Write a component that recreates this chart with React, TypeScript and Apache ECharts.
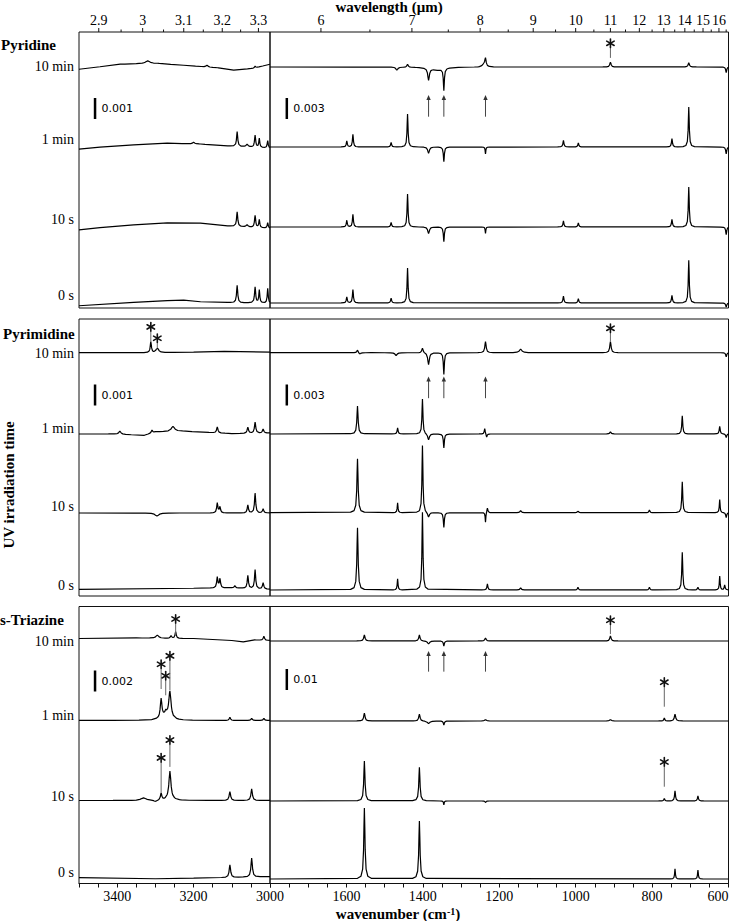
import React, { useEffect, useRef } from 'react';
import * as echarts from 'echarts';

// ---------------- text / axes ----------------
const PANEL_NAMES = ['Pyridine', 'Pyrimidine', 's-Triazine'];
const TRACE_LABELS = ['10 min', '1 min', '10 s', '0 s'];
const TOP_TITLE = 'wavelength (\u03bcm)';
const Y_TITLE = 'UV irradiation time';
const LEFT_RANGE = [3000, 3500];
const RIGHT_RANGE = [600, 1800];
const TICK_STEP = 50;
const LABEL_STEP = 200;
const WL_LEFT_MAJOR = [2.9, 3, 3.1, 3.2, 3.3];
const WL_LEFT_MINOR = [2.95, 3.05, 3.15, 3.25];
const WL_RIGHT_MAJOR = [6, 7, 8, 9, 10, 11, 12, 13, 14, 15, 16];
const WL_RIGHT_MINOR = [6.5, 7.5, 8.5, 9.5, 10.5, 11.5, 12.5, 13.5, 14.5, 15.5, 16.5];
const SCALE_BAR_LEFT = [0.001, 0.001, 0.002];
const SCALE_BAR_RIGHT = [0.003, 0.003, 0.01];
const SCALE_BAR_WN = [3458, 1756];
const ARROW_WN = [1385, 1345, 1236];
// arrow [bottom, top] relative to the 10 min trace (absorbance)
const ARROW_REL = [[-0.0071, -0.004], [-0.0065, -0.0034], [-0.0146, -0.0048]];
// asterisks: [wavenumber, trace index, line bottom, line top] (absorbance above trace)
const STARS_LEFT = [
  [],
  [[3312, 0, 0.00052, 0.001], [3295, 0, 0.00022, 0.00046]],
  [[3247, 0, 0.00033, 0.0014], [3285, 1, 0.003, 0.0049], [3273, 1, 0.0024, 0.0038], [3262, 1, 0.0029, 0.0057], [3285, 2, 0.0008, 0.0036], [3262, 2, 0.0032, 0.0053]],
];
const STARS_RIGHT = [
  [[909, 0, 0.0013, 0.0027]],
  [[909, 0, 0.0016, 0.0028]],
  [[909, 0, 0.0033, 0.0076], [768, 1, 0.0068, 0.0162], [768, 2, 0.0068, 0.0163]],
];

// ---------------- spectra: peaks [wavenumber, absorbance, half width] ----------------
// Pyridine, 3500-3000 cm-1
const pyridineL10minBase = [[3500, -0.00006], [3445, 0.00006], [3392, 0.00018], [3331, 0.00022], [3295, 0.00022], [3226, 0.00013], [3137, 0.00001], [3095, -0.0001], [3042, -0.00001], [3000, 0.00018]];
const pyridineL10min = [[3320, 0.00012, 6], [3165, 0.00008, 3], [3039, 0.00008, 2]];
const pyridineL1minBase = [[3500, -0.0001], [3445, -0.00001], [3357, 0.0001], [3269, 0.00018], [3182, 0.00014], [3111, 0.00005], [3000, -0.00005]];
const pyridineL1min = [[3086, 0.0007, 1.8], [3039, 0.00057, 1.8], [3028, 0.00043, 1.5], [3006, 0.00035, 1.5], [3060, 0.00012, 3], [3200, 0.00008, 3]];
const pyridineL10sBase = [[3500, -0.00014], [3445, -0.00003], [3357, 0.0001], [3269, 0.0002], [3182, 0.00018], [3111, 0.00005], [3000, -0.00006]];
const pyridineL10s = [[3086, 0.0007, 1.8], [3039, 0.00057, 1.8], [3028, 0.00038, 1.5], [3006, 0.00026, 1.5], [3060, 0.0001, 3]];
const pyridineL0sBase = [[3500, -0.00013], [3357, 0.00003], [3269, 0.00011], [3226, 0.00014], [3182, 0.00006], [3111, 0.00002], [3000, -0.00001]];
const pyridineL0s = [[3086, 0.00083, 1.8], [3039, 0.00076, 1.8], [3028, 0.00062, 1.5], [3006, 0.0007, 1.5]];
// Pyridine, 1800-600 cm-1
const pyridineR10min = [[1468, -0.00043, 3], [1440, 0.00043, 2], [1362, -0.00043, 22], [1385, -0.0017, 2.5], [1345, -0.0031, 1.5], [1236, 0.0011, 2], [1240, 0.0004, 5], [909, 0.0007, 2], [704, 0.0006, 2], [606, -0.0008, 1.5]];
const pyridineR1min = [[1599, 0.00086, 1.5], [1583, 0.0018, 1.5], [1483, 0.00064, 1.5], [1440, 0.0047, 1.5], [1385, -0.0009, 2.5], [1345, -0.0021, 1.5], [1236, -0.001, 1], [1032, 0.00096, 1.5], [993, 0.00057, 1.5], [748, 0.0012, 1.5], [704, 0.0057, 1.5], [606, -0.001, 1.5]];
const pyridineR10s = [[1599, 0.00095, 1.5], [1583, 0.0018, 1.5], [1483, 0.00064, 1.5], [1440, 0.0047, 1.5], [1385, -0.00095, 2.5], [1345, -0.0021, 1.5], [1236, -0.0009, 1], [1032, 0.00086, 1.5], [993, 0.00057, 1.5], [748, 0.0011, 1.5], [704, 0.0057, 1.5], [606, -0.0011, 1.5]];
const pyridineR0s = [[1599, 0.00086, 1.5], [1583, 0.0019, 1.5], [1483, 0.0007, 1.5], [1440, 0.005, 1.5], [1032, 0.001, 1.5], [993, 0.0006, 1.5], [748, 0.0011, 1.5], [704, 0.0061, 1.5], [606, -0.0006, 1.5]];
// Pyrimidine, 3500-3000 cm-1
const pyrimidineL10minBase = [[3500, 0], [3300, 0], [3200, 0.00003], [3120, 0.00006], [3000, 0.00003]];
const pyrimidineL10min = [[3312, 0.00052, 1.8], [3295, 0.00022, 4]];
const pyrimidineL1minBase = [[3500, 0], [3400, 0], [3330, -0.00007], [3300, 0.0001], [3230, 0.00014], [3160, 0.00007], [3100, 0.00002], [3000, 0.00005]];
const pyrimidineL1min = [[3393, 0.00014, 3], [3309, 0.00014, 2], [3254, 0.00024, 5], [3138, 0.00029, 2], [3058, 0.00029, 2], [3039, 0.00052, 2], [3018, 0.00019, 2]];
const pyrimidineL10sBase = [[3500, 0], [3000, 0]];
const pyrimidineL10s = [[3296, -0.00014, 6], [3138, 0.00048, 1.8], [3131, 0.00029, 1.8], [3058, 0.00038, 1.8], [3039, 0.00095, 1.8], [3018, 0.00019, 2]];
const pyrimidineL0sBase = [[3500, 0], [3200, 0.00005], [3100, 0.00007], [3000, 0]];
const pyrimidineL0s = [[3138, 0.00052, 1.8], [3131, 0.00043, 1.8], [3092, 0.0001, 2], [3058, 0.00062, 1.8], [3039, 0.0009, 1.8], [3018, 0.00029, 2]];
// Pyrimidine, 1800-600 cm-1
const pyrimidineR10min = [[1571, 0.0004, 2], [1565, -0.0002, 3], [1470, -0.0004, 3], [1401, 0.0007, 2], [1385, -0.0017, 2.5], [1345, -0.0031, 1.5], [1236, 0.0016, 2], [1144, 0.0005, 4], [909, 0.0016, 2], [606, -0.0006, 1.5]];
const pyrimidineR1min = [[1571, 0.004, 1.8], [1466, 0.00086, 1.5], [1401, 0.005, 1.5], [1385, -0.00086, 2.5], [1345, -0.002, 1.5], [1238, 0.0008, 1.5], [1233, -0.0005, 1.5], [909, 0.0003, 2], [721, 0.0026, 1.5], [623, 0.0011, 1.5], [606, -0.0005, 1.5]];
const pyrimidineR10s = [[1571, 0.0077, 1.8], [1466, 0.0014, 1.2], [1401, 0.0096, 1.5], [1385, -0.0007, 2.5], [1345, -0.0021, 1.5], [1236, -0.0014, 1], [1231, 0.0007, 1.5], [1144, 0.0003, 2], [994, 0.0003, 1.5], [807, 0.0004, 1.5], [721, 0.0044, 1.5], [623, 0.0019, 1.2], [606, -0.0007, 1.5]];
const pyrimidineR0s = [[1571, 0.0089, 1.8], [1466, 0.0016, 1.2], [1401, 0.0111, 1.5], [1231, 0.00086, 1.5], [1144, 0.0003, 2], [994, 0.0004, 1.5], [807, 0.0004, 1.5], [721, 0.0054, 1.5], [680, 0.0004, 1.5], [623, 0.002, 1.2], [610, 0.0007, 1.5]];
// s-Triazine, 3500-3000 cm-1
const triazineL10minBase = [[3500, 0], [3350, 0.00005], [3200, 0], [3100, -0.00019], [3070, -0.00033], [3040, -0.00014], [3000, -0.00019]];
const triazineL10min = [[3295, 0.00029, 4], [3259, 0.00024, 2], [3247, 0.00062, 1.8], [3016, 0.00038, 2]];
const triazineL1minBase = [[3500, 0], [3000, 0]];
const triazineL1min = [[3273, 0.00048, 14], [3285, 0.0018, 2.5], [3273, 0.0003, 2], [3262, 0.0025, 3.5], [3105, 0.0003, 2], [3048, 0.0002, 2], [3016, 0.0002, 2]];
const triazineL10sBase = [[3500, 0], [3000, 0]];
const triazineL10s = [[3331, 0.00024, 8], [3300, -0.00014, 5], [3285, 0.00067, 2], [3262, 0.0003, 10], [3262, 0.0025, 3], [3105, 0.00084, 2.2], [3048, 0.0011, 2.2]];
const triazineL0sBase = [[3500, 0], [3300, -0.0001], [3200, -0.00005], [3000, 0.0001]];
const triazineL0s = [[3105, 0.0012, 2.2], [3048, 0.0018, 2.2]];
// s-Triazine, 1800-600 cm-1
const triazineR10min = [[1553, 0.0029, 2], [1409, 0.0029, 2], [1385, -0.0014, 3], [1345, -0.0024, 1.5], [1236, 0.0014, 2], [909, 0.0024, 2]];
const triazineR1min = [[1553, 0.0038, 2], [1409, 0.0033, 2], [1385, -0.0012, 4], [1345, -0.0019, 1.5], [1236, 0.0008, 2], [909, 0.0008, 2], [768, 0.0014, 1.5], [740, 0.0033, 2]];
const triazineR10s = [[1553, 0.019, 1.8], [1409, 0.016, 1.8], [1345, -0.0019, 1], [1236, -0.001, 1], [768, 0.0012, 1.5], [740, 0.0048, 1.5], [680, 0.0024, 1.5]];
const triazineR0s = [[1553, 0.0338, 1.8], [1409, 0.0276, 1.8], [740, 0.0048, 1.2], [680, 0.0043, 1.2]];

const LEFT_PEAKS = [
  [pyridineL10min, pyridineL1min, pyridineL10s, pyridineL0s],
  [pyrimidineL10min, pyrimidineL1min, pyrimidineL10s, pyrimidineL0s],
  [triazineL10min, triazineL1min, triazineL10s, triazineL0s],
];
const LEFT_BASES = [
  [pyridineL10minBase, pyridineL1minBase, pyridineL10sBase, pyridineL0sBase],
  [pyrimidineL10minBase, pyrimidineL1minBase, pyrimidineL10sBase, pyrimidineL0sBase],
  [triazineL10minBase, triazineL1minBase, triazineL10sBase, triazineL0sBase],
];
const RIGHT_PEAKS = [
  [pyridineR10min, pyridineR1min, pyridineR10s, pyridineR0s],
  [pyrimidineR10min, pyrimidineR1min, pyrimidineR10s, pyrimidineR0s],
  [triazineR10min, triazineR1min, triazineR10s, triazineR0s],
];

// ---------------- layout (pixels) ----------------
const SERIF = '"Liberation Serif", "Times New Roman", serif';
const SANS = '"DejaVu Sans", Verdana, sans-serif';
const SECTION_X = [{ left: 79, width: 191 }, { left: 270, width: 458.5 }];
const PANEL_BOX = [{ top: 32, height: 276 }, { top: 319, height: 277 }, { top: 606.5, height: 277 }];
const BAR_PX = 21;
const OFFSETS_PX = [
  { L: [240, 161, 81, 5], R: [241, 161, 81, 5] },
  { L: [243.3, 162, 83, 6.7], R: [243.3, 162, 83.3, 6] },
  { L: [245, 163, 83, 5.8], R: [242.5, 162.5, 82.5, 4.5] },
];
const LABEL_Y = [[66.7, 139.5, 219.5, 295.3], [353.5, 428.5, 506, 585.3], [641.8, 715, 796.7, 872]];
const NAME_Y = [45, 333.5, 620];
const NAME_X = [1, 3, 0];
const BAR_BOTTOM_PX = [[189, 189], [190.5, 190.5], [192, 193.5]];
const STAR_R = 4.3;

function baseAt(base: number[][], x: number) {
  const b = [...base].sort((p, q) => p[0] - q[0]);
  if (x <= b[0][0]) return b[0][1];
  for (let i = 1; i < b.length; i++) {
    if (x <= b[i][0]) {
      const t = (x - b[i - 1][0]) / (b[i][0] - b[i - 1][0]);
      return b[i - 1][1] + t * (b[i][1] - b[i - 1][1]);
    }
  }
  return b[b.length - 1][1];
}

function buildTrace(peaks: number[][], base: number[][], range: number[], offset: number) {
  const [lo, hi] = range;
  const xs = new Set<number>([lo, hi]);
  base.forEach((p) => xs.add(p[0]));
  const K = [-10, -5, -2.5, -1.2, -0.6, 0, 0.6, 1.2, 2.5, 5, 10];
  peaks.forEach(([c, , w]) => K.forEach((k) => {
    const x = c + k * w;
    if (x >= lo && x <= hi) xs.add(Math.round(x * 100) / 100);
  }));
  const arr = [...xs].sort((a, b) => a - b);
  return arr.map((x) => [x, offset + baseAt(base, x) + peaks.reduce((s, [c, h, w]) => s + h / (1 + ((x - c) / w) ** 2), 0)]);
}

function starShape(cx: number, cy: number) {
  const out: any[] = [];
  const angles = [90, 30, -30];
  angles.forEach((a) => {
    const r = (a * Math.PI) / 180;
    const dx = Math.cos(r) * STAR_R;
    const dy = Math.sin(r) * STAR_R;
    out.push({ type: 'line', shape: { x1: cx - dx, y1: cy - dy, x2: cx + dx, y2: cy + dy }, style: { stroke: '#111', lineWidth: 1.6, lineCap: 'round' } });
  });
  return out;
}

function buildOption() {
  const grid: any[] = [];
  const xAxis: any[] = [];
  const yAxis: any[] = [];
  const series: any[] = [];
  const yMax: number[] = [];

  for (let p = 0; p < 3; p++) {
    for (let s = 0; s < 2; s++) {
      const g = p * 2 + s;
      const U = s === 0 ? SCALE_BAR_LEFT[p] : SCALE_BAR_RIGHT[p];
      const f = U / BAR_PX;
      const H = PANEL_BOX[p].height;
      yMax[g] = H * f;
      grid.push({
        left: SECTION_X[s].left, width: SECTION_X[s].width, top: PANEL_BOX[p].top, height: H,
        show: true, borderColor: '#111', borderWidth: 1, backgroundColor: 'transparent',
        containLabel: false, outerBoundsMode: 'none',
      });
      const range = s === 0 ? LEFT_RANGE : RIGHT_RANGE;
      const bottom = p === 2;
      xAxis.push({
        gridIndex: g, type: 'value', min: range[0], max: range[1], inverse: true, interval: TICK_STEP,
        position: 'bottom', show: bottom,
        axisLine: { show: bottom, lineStyle: { color: '#111', width: 1 } },
        axisTick: { show: bottom, length: 4, inside: false, lineStyle: { color: '#111' } },
        axisLabel: {
          show: bottom, fontFamily: SERIF, fontSize: 14, lineHeight: 14, color: '#000', margin: 6,
          alignMinLabel: s === 1 ? 'right' : 'center',
          formatter: (v: number) => (v % LABEL_STEP === 0 && v !== RIGHT_RANGE[1] ? String(v) : ''),
        },
        splitLine: { show: false },
      });
      yAxis.push({ gridIndex: g, type: 'value', min: 0, max: yMax[g], show: false, splitLine: { show: false } });

      // spectra
      const offs = s === 0 ? OFFSETS_PX[p].L : OFFSETS_PX[p].R;
      for (let t = 0; t < 4; t++) {
        const peaks = s === 0 ? LEFT_PEAKS[p][t] : RIGHT_PEAKS[p][t];
        const base = s === 0 ? LEFT_BASES[p][t] : [[range[0], 0], [range[1], 0]];
        series.push({
          type: 'line', xAxisIndex: g, yAxisIndex: g, silent: true, showSymbol: false, symbol: 'none',
          lineStyle: { color: '#000', width: 1.2 }, z: 3,
          data: buildTrace(peaks, base, range, offs[t] * f),
        });
      }

      // scale bar
      const barWn = SCALE_BAR_WN[s];
      const barBot = BAR_BOTTOM_PX[p][s] * f;
      const barLabel = String(U);
      series.push({
        type: 'custom', xAxisIndex: g, yAxisIndex: g, silent: true, clip: false, z: 4,
        data: [[barWn, barBot, barBot + U]],
        renderItem: (params: any, api: any) => {
          const b = api.coord([api.value(0), api.value(1)]);
          const tp = api.coord([api.value(0), api.value(2)]);
          return {
            type: 'group', children: [
              { type: 'line', shape: { x1: b[0], y1: b[1], x2: tp[0], y2: tp[1] }, style: { stroke: '#000', lineWidth: 2.5 } },
              { type: 'text', style: { text: barLabel, x: b[0] + 6.5, y: (b[1] + tp[1]) / 2, align: 'left', verticalAlign: 'middle', fill: '#000', font: `11px ${SANS}` } },
            ],
          };
        },
      });

      // asterisks (drawn as marks)
      const stars = (s === 0 ? STARS_LEFT[p] : STARS_RIGHT[p]) as number[][];
      if (stars.length) {
        series.push({
          type: 'custom', xAxisIndex: g, yAxisIndex: g, silent: true, clip: false, z: 4,
          data: stars.map(([wn, ti, lb, lt]) => [wn, offs[ti] * f + lb, offs[ti] * f + lt]),
          renderItem: (params: any, api: any) => {
            const b = api.coord([api.value(0), api.value(1)]);
            const tp = api.coord([api.value(0), api.value(2)]);
            return {
              type: 'group', children: [
                { type: 'line', shape: { x1: b[0], y1: b[1], x2: tp[0], y2: tp[1] }, style: { stroke: '#666', lineWidth: 1 } },
                ...starShape(tp[0], tp[1] - STAR_R - 0.5),
              ],
            };
          },
        });
      }

      // arrows
      if (s === 1) {
        series.push({
          type: 'custom', xAxisIndex: g, yAxisIndex: g, silent: true, clip: false, z: 4,
          data: ARROW_WN.map((wn) => [wn, offs[0] * f + ARROW_REL[p][0], offs[0] * f + ARROW_REL[p][1]]),
          renderItem: (params: any, api: any) => {
            const b = api.coord([api.value(0), api.value(1)]);
            const tp = api.coord([api.value(0), api.value(2)]);
            return {
              type: 'group', children: [
                { type: 'line', shape: { x1: b[0], y1: b[1], x2: tp[0], y2: tp[1] + 4 }, style: { stroke: '#444', lineWidth: 1 } },
                { type: 'polygon', shape: { points: [[tp[0], tp[1]], [tp[0] - 2.2, tp[1] + 5], [tp[0] + 2.2, tp[1] + 5]] }, style: { fill: '#333' } },
              ],
            };
          },
        });
      }

      // wavelength axis on top of first panel
      if (p === 0) {
        const major = s === 0 ? WL_LEFT_MAJOR : WL_RIGHT_MAJOR;
        const minor = s === 0 ? WL_LEFT_MINOR : WL_RIGHT_MINOR;
        const ticks = [...major.map((v) => ({ wl: v, major: 1 })), ...minor.map((v) => ({ wl: v, major: 0 }))];
        const top = yMax[g];
        series.push({
          type: 'custom', xAxisIndex: g, yAxisIndex: g, silent: true, clip: false, z: 4,
          data: ticks.map((t) => [1e4 / t.wl, t.major]),
          renderItem: (params: any, api: any) => {
            const t = ticks[params.dataIndex];
            const pt = api.coord([api.value(0), top]);
            const len = t.major ? 4 : 2.5;
            const children: any[] = [
              { type: 'line', shape: { x1: pt[0], y1: pt[1], x2: pt[0], y2: pt[1] - len }, style: { stroke: '#111', lineWidth: 1 } },
            ];
            if (t.major) {
              children.push({ type: 'text', style: { text: String(t.wl), x: pt[0], y: pt[1] - 11.5, align: 'center', verticalAlign: 'middle', fill: '#000', font: `14px ${SERIF}` } });
            }
            return { type: 'group', children };
          },
        });
      }
    }
  }

  const graphic: any[] = [
    { type: 'text', x: 389, y: 6.5, style: { text: TOP_TITLE, align: 'center', verticalAlign: 'middle', fill: '#000', font: `bold 15px ${SERIF}` } },
    {
      type: 'text', x: 398, y: 913.5,
      style: {
        text: '{a|wavenumber (cm}{s|-1}{a|)}', align: 'center', verticalAlign: 'middle',
        rich: {
          a: { fontFamily: SERIF, fontWeight: 'bold', fontSize: 15, fill: '#000', lineHeight: 14 },
          s: { fontFamily: SERIF, fontWeight: 'bold', fontSize: 10, fill: '#000', verticalAlign: 'top', lineHeight: 14 },
        },
      },
    },
    { type: 'text', x: 9, y: 485, rotation: Math.PI / 2, style: { text: Y_TITLE, align: 'center', verticalAlign: 'middle', fill: '#000', font: `bold 15px ${SERIF}` } },
  ];
  for (let p = 0; p < 3; p++) {
    graphic.push({ type: 'text', x: NAME_X[p], y: NAME_Y[p], style: { text: PANEL_NAMES[p], align: 'left', verticalAlign: 'middle', fill: '#000', font: `bold 15px ${SERIF}` } });
    for (let t = 0; t < 4; t++) {
      graphic.push({ type: 'text', x: 74, y: LABEL_Y[p][t], style: { text: TRACE_LABELS[t], align: 'right', verticalAlign: 'middle', fill: '#000', font: `14px ${SERIF}` } });
    }
  }

  return {
    animation: false,
    backgroundColor: '#fff',
    textStyle: { fontFamily: SERIF },
    grid, xAxis, yAxis, series, graphic,
  };
}

export default function App() {
  const ref = useRef<HTMLDivElement>(null);
  useEffect(() => {
    document.body.style.margin = '0';
    if (!ref.current) return;
    const chart = echarts.init(ref.current, undefined, { renderer: 'svg' });
    chart.setOption(buildOption() as any);
    return () => chart.dispose();
  }, []);
  return <div ref={ref} style={{ width: 731, height: 921, position: 'absolute', left: 0, top: 0 }} />;
}
